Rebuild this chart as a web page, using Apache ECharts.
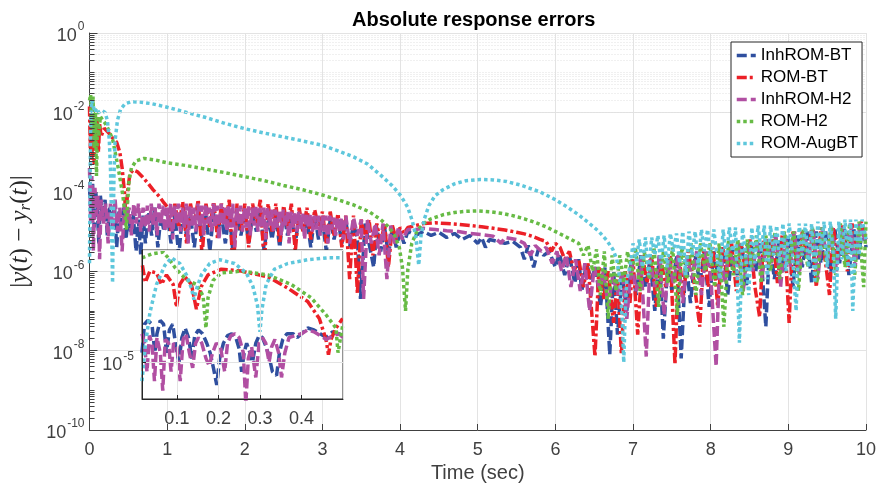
<!DOCTYPE html>
<html>
<head>
<meta charset="utf-8">
<title>Absolute response errors</title>
<script src="https://cdn.jsdelivr.net/npm/echarts@6/dist/echarts.min.js"></script>
</head>
<body style="margin:0">
<div id="main" style="width:879px;height:492px;"></div>
<script type="text/javascript">
// every pair is [time (sec), log10 of the error]
var inhRomBt = [
    [0,-3.9],[0.02,-4.6],[0.04,-3.8],[0.06,-4.9],[0.08,-4.0],[0.1,-4.4],[0.12,-5.3],[0.14,-4.1],[0.17,-4.7],[0.2,-4.2],
    [0.23,-5.1],[0.26,-4.4],[0.29,-4.9],[0.32,-4.3],[0.35,-5.4],[0.38,-4.5],[0.41,-4.8],[0.44,-4.4],[0.47,-5.2],[0.5,-4.6],
    [0.53,-5.0],[0.56,-4.5],[0.6,-5.5],[0.63,-4.7],[0.66,-5.6],[0.69,-4.6],[0.72,-5.3],[0.76,-4.5],[0.8,-5.1],[0.84,-4.4],
    [0.88,-5.4],[0.92,-4.6],[0.96,-5.0],[1.0,-4.5],[1.05,-5.3],[1.1,-4.6],[1.15,-5.6],[1.2,-4.5],[1.25,-5.1],[1.3,-4.6],
    [1.35,-5.4],[1.4,-4.5],[1.45,-5.2],[1.5,-4.6],[1.55,-5.5],[1.6,-4.5],[1.65,-5.0],[1.7,-4.6],[1.75,-5.3],[1.8,-4.5],
    [1.85,-5.6],[1.9,-4.6],[1.95,-5.1],[2.0,-4.5],[2.05,-5.3],[2.1,-4.6],[2.15,-5.0],[2.2,-4.5],[2.25,-5.5],[2.3,-4.6],
    [2.35,-5.2],[2.4,-4.6],[2.45,-5.4],[2.5,-4.5],[2.55,-5.1],[2.6,-4.6],[2.65,-5.3],[2.7,-4.6],[2.75,-5.0],[2.8,-4.7],
    [2.85,-5.4],[2.9,-4.6],[2.95,-5.2],[3.0,-4.7],[3.05,-5.5],[3.1,-4.7],[3.15,-5.2],[3.2,-4.7],[3.25,-5.3],[3.3,-4.7],
    [3.35,-5.4],[3.4,-4.8],[3.45,-5.2],[3.49,-6.7],[3.55,-4.8],[3.6,-5.3],[3.66,-5.9],[3.7,-4.9],[3.75,-5.5],[3.8,-4.9],
    [3.85,-5.6],[3.9,-4.9],[3.95,-5.4],[4.0,-5.0],[4.05,-5.3],[4.1,-5.0],[4.2,-5.1],[4.3,-5.0],[4.4,-5.1],[4.5,-5.02],
    [4.6,-5.15],[4.7,-5.05],[4.8,-5.2],[4.9,-5.1],[5.0,-5.3],[5.05,-5.15],[5.1,-5.4],[5.15,-5.2],[5.25,-5.25],[5.35,-5.3],
    [5.45,-5.25],[5.55,-5.4],[5.6,-5.7],[5.65,-5.35],[5.72,-5.9],[5.78,-5.45],[5.85,-5.6],[5.92,-5.5],[6.0,-5.9],[6.05,-5.55],
    [6.12,-6.1],[6.18,-5.6],[6.25,-6.3],[6.3,-5.7],[6.34,-6.5],[6.4,-5.8],[6.46,-6.2],[6.52,-5.9],[6.58,-6.9],[6.64,-5.9],
    [6.7,-8.1],[6.75,-6.0],[6.8,-7.6],[6.86,-6.1],[6.92,-7.0],[6.98,-5.7],[7.04,-6.6],[7.1,-5.6],[7.16,-6.4],[7.22,-5.7],
    [7.28,-7.0],[7.34,-5.6],[7.39,-7.7],[7.45,-5.7],[7.5,-6.5],[7.56,-5.6],[7.62,-8.2],[7.68,-5.7],[7.74,-6.8],[7.8,-5.6],
    [7.86,-6.3],[7.92,-5.5],[7.98,-6.9],[8.04,-5.5],[8.1,-6.2],[8.16,-5.4],[8.22,-6.6],[8.28,-5.4],[8.34,-6.1],[8.4,-5.3],
    [8.46,-6.4],[8.52,-5.3],[8.58,-6.0],[8.64,-5.3],[8.71,-7.4],[8.76,-5.2],[8.82,-6.2],[8.88,-5.2],[8.94,-6.0],[9.0,-5.1],
    [9.06,-6.4],[9.12,-5.1],[9.18,-5.9],[9.24,-5.0],[9.3,-6.3],[9.36,-5.0],[9.42,-5.8],[9.48,-5.0],[9.54,-6.2],[9.6,-4.95],
    [9.66,-5.8],[9.72,-4.9],[9.78,-6.1],[9.84,-4.9],[9.9,-5.7],[9.96,-4.85],[10,-5.4]
];
var romBt = [
    [0,-1.85],[0.01,-2.9],[0.02,-1.9],[0.03,-3.2],[0.045,-2.0],[0.06,-3.3],[0.075,-2.1],[0.09,-2.9],[0.1,-2.2],[0.115,-3.0],
    [0.13,-2.3],[0.15,-2.6],[0.19,-2.4],[0.24,-2.5],[0.3,-2.65],[0.35,-2.75],[0.39,-3.0],[0.42,-3.4],[0.45,-4.0],[0.47,-4.7],
    [0.49,-4.0],[0.52,-3.55],[0.56,-3.45],[0.62,-3.5],[0.68,-3.62],[0.75,-3.78],[0.82,-3.95],[0.9,-4.12],[0.96,-4.28],[1.01,-4.4],
    [1.05,-5.0],[1.1,-4.3],[1.15,-4.9],[1.2,-4.25],[1.25,-5.3],[1.3,-4.3],[1.35,-4.8],[1.4,-4.2],[1.45,-5.6],[1.5,-4.3],
    [1.55,-4.9],[1.6,-4.25],[1.65,-5.2],[1.7,-4.3],[1.75,-4.8],[1.8,-4.2],[1.85,-6.0],[1.9,-4.3],[1.95,-5.0],[2.0,-4.3],
    [2.05,-5.4],[2.1,-4.3],[2.15,-4.8],[2.2,-4.2],[2.25,-5.8],[2.3,-4.3],[2.35,-5.0],[2.4,-4.3],[2.45,-5.3],[2.5,-4.35],
    [2.55,-4.9],[2.6,-4.3],[2.65,-5.5],[2.7,-4.4],[2.75,-5.0],[2.8,-4.4],[2.85,-5.2],[2.9,-4.45],[2.95,-4.9],[3.0,-4.5],
    [3.05,-5.3],[3.1,-4.5],[3.15,-5.1],[3.2,-4.55],[3.25,-5.4],[3.3,-4.6],[3.35,-6.2],[3.4,-4.6],[3.45,-6.55],[3.5,-4.7],
    [3.55,-5.2],[3.6,-4.7],[3.65,-5.6],[3.7,-4.8],[3.75,-5.3],[3.8,-4.8],[3.85,-5.9],[3.9,-4.85],[3.95,-5.2],[4.0,-4.9],
    [4.05,-5.05],[4.1,-4.9],[4.2,-4.85],[4.3,-4.8],[4.45,-4.78],[4.6,-4.8],[4.75,-4.82],[4.9,-4.85],[5.05,-4.88],[5.2,-4.92],
    [5.35,-4.96],[5.5,-5.02],[5.6,-5.06],[5.7,-5.12],[5.8,-5.2],[5.88,-5.25],[5.95,-5.5],[6.0,-5.3],[6.06,-5.4],[6.12,-5.7],
    [6.18,-5.5],[6.24,-6.0],[6.3,-5.7],[6.36,-6.4],[6.42,-5.8],[6.51,-8.15],[6.56,-5.9],[6.62,-6.7],[6.68,-6.0],[6.75,-7.3],
    [6.8,-6.1],[6.85,-8.1],[6.9,-6.0],[6.96,-6.8],[7.0,-5.7],[7.06,-7.6],[7.12,-5.6],[7.18,-6.3],[7.24,-5.6],[7.3,-6.9],
    [7.36,-5.7],[7.42,-6.4],[7.48,-5.6],[7.54,-8.35],[7.59,-5.6],[7.65,-6.6],[7.71,-5.5],[7.78,-6.2],[7.86,-7.4],[7.91,-5.5],
    [7.97,-6.4],[8.03,-5.4],[8.09,-6.9],[8.15,-5.4],[8.21,-6.1],[8.27,-5.3],[8.33,-6.5],[8.39,-5.3],[8.45,-6.0],[8.51,-5.2],
    [8.57,-6.4],[8.63,-7.15],[8.68,-5.2],[8.74,-5.9],[8.8,-5.1],[8.86,-6.3],[8.92,-5.1],[8.97,-5.8],[9.01,-7.3],[9.06,-5.0],
    [9.12,-6.0],[9.18,-5.0],[9.24,-5.7],[9.3,-4.95],[9.36,-6.4],[9.42,-4.9],[9.48,-5.8],[9.53,-6.6],[9.58,-4.9],[9.64,-5.7],
    [9.7,-4.85],[9.76,-6.0],[9.82,-4.8],[9.88,-5.6],[9.94,-4.75],[10,-5.2]
];
var inhRomH2 = [
    [0,-3.4],[0.015,-4.8],[0.03,-3.6],[0.05,-5.5],[0.07,-3.9],[0.09,-4.6],[0.11,-4.1],[0.13,-5.7],[0.15,-4.2],[0.18,-4.8],
    [0.21,-4.3],[0.24,-5.3],[0.27,-4.3],[0.3,-4.9],[0.33,-4.2],[0.36,-5.0],[0.39,-4.4],[0.42,-5.5],[0.45,-4.3],[0.48,-4.7],
    [0.51,-4.4],[0.54,-5.1],[0.57,-4.3],[0.6,-4.8],[0.63,-4.3],[0.66,-5.0],[0.69,-4.4],
    [0.72,-4.9],[0.745,-4.35],[0.77,-5.0],[0.795,-4.3],[0.82,-4.85],[0.845,-4.4],[0.87,-5.1],[0.895,-4.3],[0.92,-4.8],[0.945,-4.35],
    [0.97,-5.0],[0.995,-4.4],[1.02,-4.9],[1.045,-4.3],[1.07,-5.2],[1.095,-4.35],[1.12,-4.8],[1.145,-4.3],[1.17,-5.0],[1.195,-4.4],
    [1.22,-4.9],[1.245,-4.3],[1.27,-5.3],[1.295,-4.35],[1.32,-4.85],[1.345,-4.4],[1.37,-5.0],[1.395,-4.3],[1.42,-4.9],[1.445,-4.35],
    [1.47,-5.1],[1.495,-4.3],[1.52,-4.8],[1.545,-4.4],[1.57,-5.0],[1.595,-4.3],[1.62,-4.9],[1.645,-4.35],[1.67,-5.2],[1.695,-4.3],
    [1.72,-4.85],[1.745,-4.4],[1.77,-5.0],[1.795,-4.35],[1.82,-4.9],[1.845,-4.3],[1.87,-5.4],[1.895,-4.4],[1.92,-4.8],[1.945,-4.35],
    [1.97,-5.0],[1.995,-4.4],[2.02,-4.9],[2.045,-4.35],[2.07,-5.1],[2.095,-4.4],[2.12,-4.85],[2.145,-4.35],[2.17,-5.0],[2.195,-4.4],
    [2.22,-4.9],[2.245,-4.4],[2.27,-5.2],[2.295,-4.4],[2.32,-4.85],[2.345,-4.45],[2.37,-5.0],[2.395,-4.45],[2.42,-4.9],[2.445,-4.45],
    [2.47,-5.1],[2.495,-4.45],[2.52,-4.9],[2.545,-4.5],[2.57,-5.3],[2.595,-4.5],[2.62,-4.9],[2.645,-4.5],[2.67,-5.0],[2.695,-4.5],
    [2.72,-4.95],[2.745,-4.55],[2.77,-5.2],[2.795,-4.55],[2.82,-4.9],[2.845,-4.55],[2.87,-5.0],[2.895,-4.6],[2.92,-4.95],[2.945,-4.6],
    [2.97,-5.1],[2.995,-4.6],[3.02,-5.0],[3.045,-4.6],[3.07,-5.3],[3.095,-4.6],[3.12,-4.95],[3.145,-4.65],[3.17,-5.1],[3.195,-4.65],
    [3.22,-5.0],[3.245,-4.65],[3.27,-5.2],
    [3.3,-4.6],[3.35,-5.3],[3.4,-4.65],[3.45,-5.1],[3.5,-4.7],[3.53,-6.7],[3.58,-4.7],[3.63,-5.3],[3.68,-4.8],
    [3.73,-5.6],[3.78,-4.8],[3.83,-6.2],[3.88,-4.85],[3.93,-5.3],[3.98,-4.9],[4.03,-5.2],[4.1,-4.95],[4.2,-4.95],[4.3,-4.92],
    [4.45,-4.95],[4.6,-4.98],[4.75,-5.0],[4.9,-5.05],[5.05,-5.08],[5.2,-5.12],[5.3,-5.3],[5.35,-5.15],[5.5,-5.2],[5.6,-5.3],
    [5.68,-5.6],[5.74,-5.35],[5.82,-5.5],[5.88,-5.4],[5.96,-5.8],[6.02,-5.5],[6.08,-6.0],[6.14,-5.6],[6.2,-6.4],[6.26,-5.7],
    [6.32,-6.5],[6.38,-5.8],[6.44,-7.0],[6.5,-5.9],[6.56,-6.4],[6.62,-6.0],[6.68,-6.9],[6.74,-6.1],[6.8,-6.6],[6.86,-6.0],
    [6.92,-7.2],[6.98,-5.8],[7.04,-6.5],[7.1,-5.7],[7.17,-8.15],[7.22,-5.7],[7.28,-6.4],[7.34,-5.6],[7.4,-7.1],[7.46,-5.7],
    [7.52,-6.3],[7.58,-5.6],[7.64,-6.8],[7.7,-5.6],[7.76,-6.2],[7.82,-5.5],[7.88,-6.6],[7.94,-5.5],[8.0,-6.1],[8.07,-8.4],
    [8.12,-5.4],[8.18,-6.3],[8.24,-5.4],[8.3,-5.9],[8.36,-5.3],[8.42,-6.5],[8.48,-5.3],[8.54,-6.0],[8.6,-5.2],[8.66,-6.2],
    [8.72,-5.2],[8.78,-5.8],[8.84,-5.1],[8.9,-6.4],[8.96,-5.1],[9.02,-5.9],[9.08,-5.0],[9.14,-6.1],[9.2,-5.0],[9.26,-5.7],
    [9.32,-4.95],[9.38,-6.2],[9.44,-4.9],[9.5,-5.8],[9.56,-4.9],[9.62,-6.0],[9.68,-4.85],[9.74,-5.6],[9.8,-4.8],[9.86,-5.9],
    [9.92,-4.8],[10,-5.3]
];
var romH2 = [
    [0,-1.7],[0.015,-1.55],[0.03,-2.4],[0.045,-1.6],[0.06,-2.9],[0.075,-1.9],[0.09,-3.6],[0.105,-2.0],[0.12,-2.6],[0.14,-2.1],
    [0.17,-2.2],[0.2,-2.27],[0.25,-2.45],[0.3,-2.7],[0.34,-3.1],[0.37,-3.4],[0.4,-3.75],[0.43,-4.1],[0.46,-4.6],[0.475,-4.95],
    [0.49,-4.3],[0.51,-3.7],[0.54,-3.4],[0.6,-3.22],[0.7,-3.16],[0.85,-3.2],[1.0,-3.27],[1.25,-3.34],[1.5,-3.43],[1.75,-3.52],
    [2.0,-3.62],[2.25,-3.72],[2.5,-3.84],[2.75,-3.95],[3.0,-4.08],[3.2,-4.2],[3.4,-4.33],[3.6,-4.5],[3.75,-4.7],[3.85,-4.88],
    [3.93,-5.1],[3.99,-5.4],[4.03,-5.9],[4.07,-7.0],[4.1,-5.95],[4.15,-5.3],[4.22,-4.98],[4.3,-4.8],[4.4,-4.68],[4.55,-4.58],
    [4.7,-4.52],[4.85,-4.49],[5.0,-4.48],[5.15,-4.5],[5.3,-4.54],[5.45,-4.6],[5.6,-4.68],[5.75,-4.78],[5.9,-4.9],[6.05,-5.05],
    [6.2,-5.2],[6.3,-5.3],[6.36,-5.6],[6.42,-5.35],[6.48,-6.0],[6.53,-5.45],[6.58,-6.6],[6.63,-5.5],[6.68,-7.2],[6.73,-5.6],
    [6.78,-6.5],[6.83,-5.6],[6.88,-6.3],[6.93,-5.5],[6.98,-6.1],[7.03,-5.4],[7.09,-6.5],[7.15,-5.5],[7.21,-6.2],[7.27,-5.4],
    [7.33,-6.9],[7.39,-5.5],[7.45,-6.3],[7.51,-5.4],[7.57,-7.1],[7.63,-5.4],[7.69,-6.2],[7.75,-5.3],[7.81,-6.6],[7.87,-5.3],
    [7.93,-6.0],[7.99,-5.3],[8.05,-6.4],[8.11,-5.3],[8.17,-7.4],[8.23,-5.2],[8.29,-6.1],[8.35,-5.2],[8.41,-6.6],[8.47,-5.2],
    [8.53,-5.9],[8.59,-5.1],[8.65,-6.3],[8.71,-5.1],[8.77,-6.0],[8.83,-5.0],[8.89,-6.2],[8.95,-5.0],[9.01,-5.8],[9.07,-5.0],
    [9.13,-6.5],[9.19,-4.95],[9.25,-5.9],[9.31,-4.9],[9.37,-6.3],[9.43,-4.9],[9.49,-5.8],[9.55,-4.85],[9.61,-6.1],[9.67,-4.8],
    [9.73,-5.9],[9.79,-4.8],[9.85,-6.2],[9.91,-4.75],[9.97,-6.4],[10,-4.75]
];
var romAugBt = [
    [0,-5.8],[0.008,-3.6],[0.016,-2.2],[0.03,-1.7],[0.05,-1.75],[0.07,-2.0],[0.09,-1.9],[0.12,-2.0],[0.16,-1.95],[0.2,-2.0],
    [0.23,-2.2],[0.255,-2.7],[0.27,-3.4],[0.28,-4.3],[0.29,-5.5],[0.297,-6.3],[0.305,-5.0],[0.315,-3.6],[0.33,-2.7],[0.36,-2.2],
    [0.4,-1.92],[0.46,-1.78],[0.54,-1.73],[0.65,-1.74],[0.8,-1.78],[1.0,-1.87],[1.25,-2.0],[1.5,-2.13],[1.75,-2.28],[2.0,-2.41],
    [2.25,-2.52],[2.5,-2.62],[2.75,-2.72],[3.0,-2.83],[3.2,-2.97],[3.4,-3.12],[3.58,-3.3],[3.75,-3.58],[3.9,-3.85],[4.01,-4.1],
    [4.1,-4.4],[4.16,-4.75],[4.2,-5.1],[4.24,-5.85],[4.27,-5.1],[4.31,-4.7],[4.37,-4.35],[4.45,-4.1],[4.55,-3.95],[4.7,-3.8],
    [4.85,-3.72],[5.03,-3.69],[5.2,-3.7],[5.37,-3.74],[5.55,-3.83],[5.8,-4.0],[6.0,-4.2],[6.15,-4.38],[6.3,-4.58],[6.44,-4.8],
    [6.56,-5.0],[6.66,-5.22],[6.74,-5.45],[6.79,-5.7],[6.83,-6.2],[6.86,-7.2],[6.88,-8.3],[6.9,-7.0],[6.92,-6.2],[6.96,-5.9],
    [7.0,-5.3],[7.04,-5.75],[7.08,-5.2],[7.12,-5.9],[7.16,-5.15],[7.2,-6.1],[7.24,-5.15],[7.28,-5.6],[7.32,-5.1],[7.36,-5.8],
    [7.4,-5.1],[7.44,-5.9],[7.48,-5.05],[7.52,-5.5],[7.56,-5.05],[7.6,-5.8],[7.64,-5.0],[7.68,-6.1],[7.72,-5.0],[7.76,-5.6],
    [7.8,-5.0],[7.84,-5.9],[7.88,-4.95],[7.92,-5.5],[7.96,-4.95],[8.0,-5.8],[8.04,-4.95],[8.08,-5.6],[8.12,-6.2],[8.16,-4.95],
    [8.2,-5.7],[8.24,-4.9],[8.28,-5.5],[8.32,-4.9],[8.37,-7.8],[8.41,-4.9],[8.45,-5.6],[8.49,-6.6],[8.53,-4.9],[8.57,-5.8],
    [8.61,-4.85],[8.65,-5.5],[8.69,-4.85],[8.73,-6.2],[8.77,-4.85],[8.81,-5.6],[8.85,-4.85],[8.89,-5.8],[8.93,-4.8],[8.97,-6.0],
    [9.01,-4.8],[9.05,-5.5],[9.1,-7.0],[9.14,-4.8],[9.18,-5.6],[9.22,-4.8],[9.26,-5.9],[9.3,-4.8],[9.34,-6.3],[9.38,-4.75],
    [9.42,-5.5],[9.46,-4.75],[9.5,-5.9],[9.54,-4.75],[9.58,-5.6],[9.61,-7.2],[9.65,-4.75],[9.69,-5.7],[9.73,-4.7],[9.77,-5.9],
    [9.8,-4.7],[9.83,-7.0],[9.87,-4.7],[9.91,-5.6],[9.95,-4.7],[10,-5.2]
];

// inset (zoom on the first half second)
var insetInhRomBt = [
    [0.016,-4.95],[0.022,-4.8],[0.03,-4.78],[0.04,-4.8],[0.047,-4.95],[0.052,-4.85],[0.06,-4.78],[0.068,-4.8],[0.075,-4.95],[0.082,-4.83],
    [0.09,-4.8],[0.098,-4.92],[0.105,-5.0],[0.112,-4.87],[0.12,-4.82],[0.128,-4.87],[0.136,-4.98],[0.143,-4.86],[0.152,-4.83],[0.162,-4.85],
    [0.172,-4.9],[0.18,-4.95],[0.188,-5.03],[0.196,-5.12],[0.203,-4.98],[0.212,-4.9],[0.222,-4.86],[0.232,-4.85],[0.242,-4.87],[0.25,-4.93],
    [0.256,-5.05],[0.262,-4.95],[0.268,-4.9],[0.276,-4.95],[0.282,-5.0],[0.29,-4.9],[0.298,-4.86],[0.306,-4.87],[0.315,-4.92],[0.322,-4.97],
    [0.33,-5.05],[0.34,-5.07],[0.347,-4.95],[0.355,-4.88],[0.365,-4.85],[0.38,-4.85],[0.39,-4.87],[0.4,-4.85],[0.415,-4.82],[0.43,-4.83],
    [0.445,-4.85],[0.46,-4.87],[0.475,-4.84],[0.49,-4.85],[0.5,-4.86]
];
var insetRomBt = [
    [0.017,-4.49],[0.024,-4.58],[0.035,-4.52],[0.051,-4.53],[0.063,-4.59],[0.075,-4.54],[0.091,-4.59],[0.099,-4.71],[0.107,-4.59],[0.119,-4.55],
    [0.135,-4.59],[0.147,-4.72],[0.159,-4.6],[0.175,-4.54],[0.207,-4.51],[0.255,-4.52],[0.319,-4.55],[0.367,-4.61],[0.415,-4.68],[0.443,-4.77],
    [0.459,-4.88],[0.465,-4.96],[0.471,-4.88],[0.483,-4.82],[0.499,-4.77]
];
var insetInhRomH2 = [
    [0.016,-4.85],[0.022,-4.9],[0.028,-5.05],[0.034,-4.86],[0.04,-4.9],[0.046,-5.1],[0.052,-4.87],[0.06,-4.95],[0.066,-5.15],[0.072,-4.88],
    [0.08,-4.9],[0.086,-5.05],[0.092,-4.9],[0.1,-4.92],[0.108,-5.1],[0.115,-4.88],[0.122,-4.85],[0.13,-4.95],[0.138,-5.03],[0.145,-4.9],
    [0.152,-4.87],[0.16,-4.9],[0.17,-4.98],[0.178,-5.02],[0.186,-4.95],[0.195,-4.9],[0.205,-4.92],[0.215,-5.05],[0.222,-4.9],[0.23,-4.86],
    [0.24,-4.85],[0.25,-4.87],[0.26,-4.95],[0.266,-5.22],[0.272,-4.98],[0.28,-4.92],[0.29,-5.08],[0.298,-4.9],[0.306,-4.87],[0.314,-4.9],
    [0.322,-5.0],[0.328,-4.92],[0.336,-4.88],[0.345,-4.95],[0.352,-5.08],[0.36,-4.95],[0.37,-4.87],[0.385,-4.86],[0.4,-4.85],[0.415,-4.83],
    [0.43,-4.84],[0.445,-4.86],[0.46,-4.88],[0.475,-4.86],[0.49,-4.85],[0.5,-4.87]
];
var insetRomH2 = [
    [0.016,-4.45],[0.039,-4.43],[0.067,-4.42],[0.079,-4.45],[0.095,-4.5],[0.111,-4.54],[0.127,-4.57],[0.147,-4.59],[0.163,-4.65],[0.17,-4.82],
    [0.175,-4.66],[0.187,-4.57],[0.207,-4.53],[0.255,-4.52],[0.319,-4.54],[0.375,-4.59],[0.423,-4.66],[0.459,-4.75],[0.483,-4.82],[0.488,-4.95],
    [0.495,-4.86],[0.499,-4.81]
];
var insetRomAugBt = [
    [0.016,-5.1],[0.024,-4.91],[0.035,-4.74],[0.051,-4.59],[0.071,-4.49],[0.087,-4.45],[0.107,-4.48],[0.123,-4.54],[0.135,-4.61],[0.141,-4.67],
    [0.148,-4.61],[0.159,-4.54],[0.179,-4.48],[0.203,-4.46],[0.239,-4.48],[0.267,-4.53],[0.283,-4.6],[0.294,-4.7],[0.3,-4.84],[0.305,-4.72],
    [0.315,-4.59],[0.335,-4.51],[0.367,-4.48],[0.415,-4.46],[0.463,-4.45],[0.499,-4.45]
];

var names = ['InhROM-BT', 'ROM-BT', 'InhROM-H2', 'ROM-H2', 'ROM-AugBT'];
var colors = ['#2f4f9f', '#ec2027', '#b14fa2', '#67bb45', '#5ec7dc'];
var dashes = [[10, 4], [10, 3, 3, 3], [10, 4], [3.5, 3], [3.5, 3]];

function toVal(arr) {
    return arr.map(function (p) { return [p[0], Math.pow(10, p[1])]; });
}

function supLabel(v) {
    var e = Math.round(Math.log10(v));
    return '{b|10}{s|' + e + '}';
}

var minorGrid = [];
var minorTicks = [];
for (var k = -10; k < 0; k++) {
    for (var m = 1; m < 10; m++) {
        if (m === 1 && k % 2 === 0) continue;
        var v = m * Math.pow(10, k);
        minorGrid.push({ yAxis: v });
        minorTicks.push([{ coord: [0, v] }, { coord: [0.065, v] }]);
    }
}

var axisFont = { fontFamily: 'Liberation Sans', fontSize: 18, color: '#404040', margin: 11 };
var richLabel = {
    b: { fontFamily: 'Liberation Sans', fontSize: 18, color: '#404040', lineHeight: 24, verticalAlign: 'bottom' },
    s: { fontFamily: 'Liberation Sans', fontSize: 12, color: '#404040', lineHeight: 24, verticalAlign: 'top', padding: [0, 0, 0, 1] }
};

var series = [{
    type: 'line', name: 'minor', data: [], z: 1, silent: true,
    markLine: {
        silent: true, symbol: 'none', animation: false, label: { show: false },
        lineStyle: { color: '#e0e0e0', type: [1, 2], width: 1 },
        data: minorGrid
    }
}, {
    type: 'line', name: 'ticks', data: [], z: 3, silent: true,
    markLine: {
        silent: true, symbol: 'none', animation: false, label: { show: false },
        lineStyle: { color: '#404040', type: 'solid', width: 1 },
        data: minorTicks
    }
}];

var mainData = [inhRomBt, romBt, inhRomH2, romH2, romAugBt];
var insetData = [insetInhRomBt, insetRomBt, insetInhRomH2, insetRomH2, insetRomAugBt];

mainData.forEach(function (d, i) {
    series.push({
        type: 'line', name: names[i], data: toVal(d),
        xAxisIndex: 0, yAxisIndex: 0, symbol: 'none', z: 2,
        lineStyle: { color: colors[i], width: 3.5, type: dashes[i], cap: 'butt' },
        itemStyle: { color: colors[i] }
    });
});
insetData.forEach(function (d, i) {
    series.push({
        type: 'line', name: names[i], data: toVal(d),
        xAxisIndex: 1, yAxisIndex: 1, symbol: 'none', z: 11,
        lineStyle: { color: colors[i], width: 3.5, type: dashes[i], cap: 'butt' },
        itemStyle: { color: colors[i] }
    });
});

var chart = echarts.init(document.getElementById('main'));
chart.setOption({
    animation: false,
    backgroundColor: '#fff',
    title: {
        text: 'Absolute response errors',
        left: 347, top: 5,
        textStyle: { fontFamily: 'Liberation Sans', fontSize: 20, fontWeight: 'bold', color: '#000' }
    },
    legend: {
        data: names,
        orient: 'vertical',
        left: 731, top: 42,
        padding: [4, 4, 4, 4],
        itemWidth: 19, itemHeight: 12, itemGap: 3,
        borderColor: '#262626', borderWidth: 1, backgroundColor: '#fff',
        itemStyle: { opacity: 0 },
        lineStyle: { width: 3.5 },
        textStyle: { fontFamily: 'Liberation Sans', fontSize: 17, color: '#000', lineHeight: 19 },
        z: 20
    },
    grid: [{
        left: 88, right: 12, top: 33, bottom: 62
    }, {
        left: 142, top: 250, width: 201, height: 149,
        show: true, backgroundColor: '#fff', borderColor: '#262626', borderWidth: 1, z: 10
    }],
    xAxis: [{
        type: 'value', gridIndex: 0, min: 0, max: 10, interval: 1,
        name: 'Time (sec)', nameLocation: 'middle', nameGap: 32,
        nameTextStyle: { fontFamily: 'Liberation Sans', fontSize: 20, color: '#404040' },
        axisLine: { lineStyle: { color: '#404040', width: 1 } },
        axisTick: { inside: true, length: 6, lineStyle: { color: '#404040' } },
        axisLabel: axisFont,
        splitLine: { lineStyle: { color: '#e3e3e3', width: 1 } }
    }, {
        type: 'value', gridIndex: 1, min: 0.016, max: 0.5,
        axisLine: { lineStyle: { color: '#262626', width: 1 } },
        axisTick: { inside: true, length: 4, lineStyle: { color: '#262626' } },
        axisLabel: { fontFamily: 'Liberation Sans', fontSize: 18, color: '#404040', margin: 11, showMinLabel: false, showMaxLabel: false },
        splitLine: { lineStyle: { color: '#e3e3e3', width: 1 } },
        z: 12
    }],
    yAxis: [{
        type: 'log', gridIndex: 0, logBase: 10, min: 1e-10, max: 1, interval: 2,
        name: '{n||}{i|y}{n|(}{i|t}{n|) − }{i|y}{r|r}{n|(}{i|t}{n|)|}',
        nameLocation: 'middle', nameGap: 55, nameRotate: 90,
        nameTextStyle: {
            rich: {
                n: { fontFamily: 'Liberation Serif', fontSize: 25, color: '#262626', lineHeight: 28 },
                i: { fontFamily: 'Liberation Serif', fontStyle: 'italic', fontSize: 25, color: '#262626', lineHeight: 28 },
                r: { fontFamily: 'Liberation Serif', fontStyle: 'italic', fontSize: 17, color: '#262626', lineHeight: 28, verticalAlign: 'bottom', padding: [9, 0, 0, 0] }
            }
        },
        axisLine: { show: true, lineStyle: { color: '#404040', width: 1 } },
        axisTick: { show: true, inside: true, length: 8, lineStyle: { color: '#404040' } },
        axisLabel: { formatter: supLabel, rich: richLabel, margin: 5 },
        splitLine: { show: true, lineStyle: { color: '#e3e3e3', width: 1 } }
    }, {
        type: 'log', gridIndex: 1, logBase: 10, min: 6.4e-6, max: 3.9e-5,
        axisLine: { show: true, lineStyle: { color: '#262626', width: 1 } },
        axisTick: { show: true, inside: true, length: 4, lineStyle: { color: '#262626' } },
        axisLabel: {
            showMinLabel: false, showMaxLabel: false, margin: 8, rich: richLabel,
            formatter: function (v) {
                var e = Math.log10(v);
                return Math.abs(e - Math.round(e)) < 1e-6 ? supLabel(v) : '';
            }
        },
        splitLine: { show: true, lineStyle: { color: '#e3e3e3', width: 1 } },
        z: 12
    }],
    series: series
});
</script>
</body>
</html>
